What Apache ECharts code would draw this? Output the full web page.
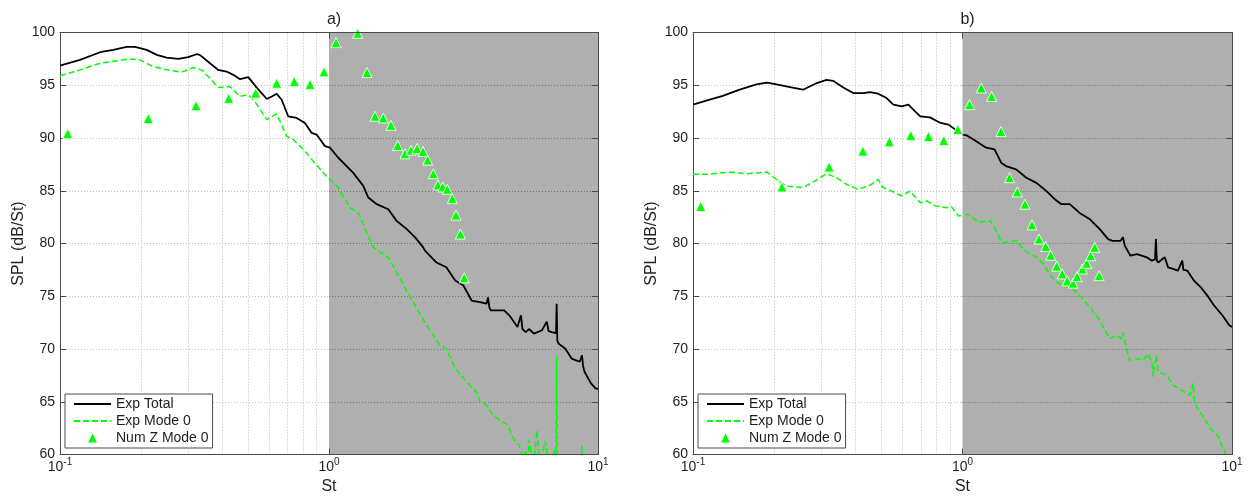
<!DOCTYPE html>
<html>
<head>
<meta charset="utf-8">
<script src="https://cdn.jsdelivr.net/npm/echarts@6/dist/echarts.min.js"></script>
<style>
  html, body { margin: 0; padding: 0; background: #fff; }
  #chart { width: 1256px; height: 500px; }
</style>
</head>
<body>
<div id="chart"></div>
<script>
// ---- Panel a) : [St, SPL dB/St] ----
const aExpTotal = [
  [0.1,96.87],[0.1187,97.4],[0.1409,98.13],[0.1578,98.35],[0.177,98.63],[0.19,98.63],[0.21,98.35],
  [0.229,97.88],[0.249,97.62],[0.276,97.5],[0.2996,97.66],[0.3215,97.94],[0.331,97.88],[0.361,97.09],
  [0.387,96.46],[0.416,96.3],[0.441,95.99],[0.467,95.58],[0.501,95.77],[0.537,94.83],[0.587,93.7],
  [0.613,93.94],[0.639,94.2],[0.667,93.63],[0.705,92.06],[0.758,91.9],[0.814,91.43],[0.861,90.49],
  [0.899,90.33],[0.966,89.23],[1.009,89.08],[1.083,88.13],[1.099,87.97],[1.231,86.7],[1.342,85.45],
  [1.4,84.36],[1.504,83.73],[1.662,83.25],[1.783,82.15],[1.946,81.37],[2.09,80.58],[2.24,79.64],
  [2.274,79.32],[2.51,78.2],[2.73,77.75],[2.945,76.49],[3.16,76.02],[3.39,74.6],[3.64,74.45],
  [3.85,74.3],[3.9,74.9],[3.95,73.9],[4.0,73.66],[4.48,73.66],[4.68,73.2],[5.02,72.1],[5.1,72.2],
  [5.17,73.2],[5.24,71.9],[5.39,71.6],[5.54,71.9],[5.78,71.46],[6.19,71.78],[6.45,72.6],[6.55,71.7],
  [6.73,71.6],[6.98,71.5],[7.02,74.3],[7.06,70.8],[7.14,70.5],[7.55,70.05],[7.98,69.1],[8.55,68.8],
  [8.72,69.4],[8.8,68.4],[8.91,67.85],[9.42,66.75],[9.77,66.3],[10,66.2]
];
const aExpMode0 = [
  [0.1,95.9],[0.1187,96.46],[0.1409,97.09],[0.162,97.31],[0.182,97.5],[0.198,97.4],[0.222,96.77],
  [0.249,96.46],[0.283,96.24],[0.313,96.68],[0.336,96.46],[0.361,95.67],[0.387,94.79],[0.428,94.89],
  [0.467,93.94],[0.501,94.1],[0.53,93.47],[0.587,91.75],[0.639,92.28],[0.696,90.17],[0.736,89.86],
  [0.814,88.76],[0.873,87.81],[0.977,86.4],[1.083,85.3],[1.099,84.98],[1.197,83.4],[1.285,82.94],
  [1.38,81.06],[1.46,79.64],[1.525,79.32],[1.662,78.7],[1.81,76.96],[1.993,75.07],[2.14,73.66],
  [2.33,72.1],[2.58,70.36],[2.73,70.05],[2.945,68.16],[3.25,66.9],[3.34,66.58],[3.53,65.96],
  [3.64,65.0],[3.85,64.7],[4.07,63.75],[4.31,63.28],[4.62,62.8],[4.88,61.4],[5.09,60.9],[5.25,59.8],
  [5.39,60.3],[5.5,59.6],[5.54,61.4],[5.65,60.0],[5.78,59.5],[5.93,62.3],[6.02,60.2],[6.15,59.6],
  [6.37,61.3],[6.5,59.8],[6.7,59.4],[6.9,60.5],[6.98,59.5],[7.02,69.3],[7.06,58.5],[7.5,57.8],
  [8.0,57.2],[8.6,56.6],[8.72,60.9],[8.8,56.4],[9.4,55.8],[10,55.2]
];
const aNumZMode0 = [
  [0.1068,90.42],[0.2129,91.84],[0.3203,93.07],[0.4237,93.76],[0.534,94.26],[0.639,95.2],[0.743,95.36],
  [0.85,95.08],[0.958,96.27],[1.062,99.04],[1.278,99.92],[1.384,96.2],[1.483,92.06],[1.592,91.9],
  [1.7,91.2],[1.8,89.29],[1.916,88.51],[2.018,88.85],[2.124,89.0],[2.236,88.73],[2.327,87.91],
  [2.442,86.62],[2.542,85.55],[2.647,85.36],[2.753,85.14],[2.873,84.26],[2.966,82.69],[3.077,80.9],
  [3.184,76.75]
];

// ---- Panel b) ----
const bExpTotal = [
  [0.1,93.16],[0.112,93.54],[0.129,94.0],[0.149,94.58],[0.172,95.08],[0.188,95.26],[0.204,95.08],
  [0.229,94.83],[0.256,94.58],[0.288,95.21],[0.313,95.52],[0.331,95.42],[0.361,94.79],[0.393,94.26],
  [0.429,94.26],[0.454,94.36],[0.486,94.2],[0.523,93.79],[0.554,93.16],[0.595,93.0],[0.63,93.16],
  [0.667,92.53],[0.697,92.06],[0.757,91.96],[0.829,91.43],[0.887,91.27],[0.953,90.7],[1.003,90.33],
  [1.038,90.24],[1.124,89.7],[1.225,89.08],[1.315,88.92],[1.392,87.66],[1.45,87.34],[1.581,87.03],
  [1.725,86.24],[1.88,85.75],[2.05,84.97],[2.2,84.2],[2.33,83.73],[2.5,83.73],[2.72,82.9],[2.97,82.3],
  [3.23,81.37],[3.47,80.42],[3.6,80.26],[3.86,80.26],[3.94,80.6],[4.0,79.8],[4.2,78.85],[4.44,79.0],
  [4.83,78.7],[5.04,78.38],[5.18,78.5],[5.22,80.42],[5.26,78.4],[5.32,78.2],[5.63,78.7],[5.79,77.75],
  [6.04,77.6],[6.3,77.44],[6.54,78.38],[6.6,77.5],[6.82,77.44],[7.22,76.49],[7.65,75.87],[8.1,75.07],
  [8.58,74.13],[9.22,73.18],[9.77,72.25],[10,72.09]
];
const bExpMode0 = [
  [0.1,86.56],[0.112,86.56],[0.137,86.77],[0.158,86.62],[0.188,86.77],[0.204,86.08],[0.222,85.45],
  [0.256,85.3],[0.283,85.92],[0.313,86.62],[0.341,86.24],[0.371,85.61],[0.41,85.14],[0.454,85.52],
  [0.486,86.08],[0.508,85.3],[0.554,84.89],[0.595,84.51],[0.639,84.98],[0.697,83.87],[0.737,84.04],
  [0.793,83.57],[0.872,83.4],[0.91,83.5],[0.966,82.62],[1.05,82.78],[1.147,82.0],[1.268,82.15],
  [1.322,81.37],[1.4,80.1],[1.59,80.26],[1.66,79.64],[1.734,79.17],[1.89,78.7],[2.02,77.9],[2.1,77.12],
  [2.24,76.34],[2.37,76.02],[2.57,75.7],[2.72,75.07],[2.97,73.97],[3.23,72.72],[3.51,71.0],[3.72,71.3],
  [3.88,71.0],[3.94,71.6],[4.06,70.05],[4.17,68.94],[4.42,69.1],[4.68,68.94],[4.89,69.58],[5.05,68.6],
  [5.1,67.38],[5.16,68.5],[5.25,69.4],[5.32,67.85],[5.72,67.53],[6.06,66.58],[6.64,65.96],[7.0,65.65],
  [7.17,66.75],[7.25,65.2],[7.31,64.76],[7.84,63.5],[8.53,62.09],[8.88,61.77],[9.0,61.3],[9.5,60.0],
  [10,59.3]
];
const bNumZMode0 = [
  [0.1068,83.51],[0.2137,85.36],[0.32,87.25],[0.427,88.76],[0.535,89.64],[0.643,90.24],[0.748,90.14],
  [0.852,89.76],[0.961,90.8],[1.062,93.16],[1.174,94.74],[1.282,93.94],[1.389,90.61],[1.495,86.24],
  [1.597,84.89],[1.706,83.73],[1.811,81.77],[1.923,80.42],[2.035,79.73],[2.124,78.89],[2.236,77.85],
  [2.343,77.12],[2.445,76.46],[2.572,76.25],[2.662,76.87],[2.786,77.59],[2.891,78.13],[2.988,78.85],
  [3.093,79.64],[3.214,76.96]
];

// ---- Axes, grid lines and shaded band ----
const stRange = [0.1, 10];
const splRange = [60, 100];
const splStep = 5;
const splGrid = [65, 70, 75, 80, 85, 90, 95];
const stMinorGrid = [0.2, 0.3, 0.4, 0.5, 0.6, 0.7, 0.8, 0.9];
const shadedSt = [1, 10];
const seriesNames = ['Exp Total', 'Exp Mode 0', 'Num Z Mode 0'];
const panelTitles = ['a)', 'b)'];

const panels = [
  { title: panelTitles[0], total: aExpTotal, mode: aExpMode0, num: aNumZMode0 },
  { title: panelTitles[1], total: bExpTotal, mode: bExpMode0, num: bNumZMode0 }
];

const FONT = '"Liberation Sans", Arial, Helvetica, sans-serif';
const TEXT = '#1e1e1e';
const AXIS = '#4a4a4a';

const boxes = [
  { left: 60, width: 538 },
  { left: 693, width: 539 }
];
const gridTop = 32.5, gridBottom = 43.5;

const grid = [], xAxis = [], yAxis = [], series = [], legend = [], title = [];

panels.forEach((p, i) => {
  const b = boxes[i];
  grid.push({ left: b.left, width: b.width, top: gridTop, bottom: gridBottom, containLabel: false });

  title.push({
    text: p.title, left: b.left + b.width / 2, top: 7, textAlign: 'center',
    textStyle: { fontFamily: FONT, fontSize: 16, fontWeight: 'normal', color: TEXT }
  });

  // bottom log axis with labels
  xAxis.push({
    type: 'log', logBase: 10, gridIndex: i, position: 'bottom', min: stRange[0], max: stRange[1],
    z: 4,
    name: 'St', nameLocation: 'middle', nameGap: 24,
    nameTextStyle: { fontFamily: FONT, fontSize: 16, color: TEXT },
    axisLine: { show: true, lineStyle: { color: AXIS, width: 1 } },
    axisTick: { show: true, inside: true, length: 6, lineStyle: { color: AXIS } },
    minorTick: { show: false },
    splitLine: { show: false },
    axisLabel: {
      margin: 3, color: TEXT, fontFamily: FONT,
      formatter: v => '{b|10}{s|' + Math.round(Math.log10(v)) + '}',
      rich: {
        b: { fontSize: 14, fontFamily: FONT, color: TEXT },
        s: { fontSize: 10, fontFamily: FONT, color: TEXT, padding: [0, 0, 9, 0] }
      }
    }
  });
  // top frame edge
  xAxis.push({
    type: 'log', logBase: 10, gridIndex: i, position: 'top', min: stRange[0], max: stRange[1], z: 4,
    axisLine: { show: true, lineStyle: { color: AXIS, width: 1 } },
    axisTick: { show: true, inside: true, length: 6, lineStyle: { color: AXIS } },
    axisLabel: { show: false }, splitLine: { show: false }
  });

  // left value axis with dotted grid
  yAxis.push({
    type: 'value', gridIndex: i, position: 'left', min: splRange[0], max: splRange[1], interval: splStep,
    name: 'SPL (dB/St)', nameLocation: 'middle', nameGap: 33, nameRotate: 90,
    nameTextStyle: { fontFamily: FONT, fontSize: 16, color: TEXT },
    axisLine: { show: true, lineStyle: { color: AXIS, width: 1 } },
    axisTick: { show: true, inside: true, length: 6, lineStyle: { color: AXIS } },
    axisLabel: { margin: 5, fontFamily: FONT, fontSize: 14, color: TEXT },
    splitLine: { show: true, lineStyle: { color: '#bcbcbc', type: [1, 2], width: 1 } }
  });
  // right frame edge
  yAxis.push({
    type: 'value', gridIndex: i, position: 'right', min: splRange[0], max: splRange[1], interval: splStep, z: 4,
    axisLine: { show: true, lineStyle: { color: AXIS, width: 1 } },
    axisTick: { show: true, inside: true, length: 6, lineStyle: { color: AXIS } },
    axisLabel: { show: false }, splitLine: { show: false }
  });

  const xi = i * 2, yi = i * 2;

  const guideLines = stMinorGrid.map(st => ({
    xAxis: st, lineStyle: { color: '#bcbcbc', type: [1, 2], width: 1 }
  })).concat(splGrid.map(v => [
    { coord: [shadedSt[0], v], lineStyle: { color: '#6c6c6c', type: [1, 2], width: 1 } },
    { coord: [shadedSt[1], v] }
  ]));

  series.push({
    name: seriesNames[0], type: 'line', xAxisIndex: xi, yAxisIndex: yi,
    data: p.total, symbol: 'none', showSymbol: false, z: 2,
    lineStyle: { color: '#000', width: 1.8 }, itemStyle: { color: '#000' },
    markArea: {
      silent: true, z: 1,
      itemStyle: { color: '#afafaf' },
      data: [[{ xAxis: shadedSt[0], yAxis: splRange[0] }, { xAxis: shadedSt[1], yAxis: splRange[1] }]]
    },
    markLine: {
      silent: true, z: 1.5, symbol: ['none', 'none'], label: { show: false },
      animation: false, data: guideLines
    }
  });
  series.push({
    name: seriesNames[1], type: 'line', xAxisIndex: xi, yAxisIndex: yi,
    data: p.mode, symbol: 'none', showSymbol: false, z: 2,
    lineStyle: { color: '#00ff00', width: 1.5, type: [6, 3] }, itemStyle: { color: '#00ff00' }
  });
  series.push({
    name: seriesNames[2], type: 'line', xAxisIndex: xi, yAxisIndex: yi,
    data: p.num, symbol: 'triangle', symbolSize: 10, showSymbol: true, showAllSymbol: true, z: 3,
    lineStyle: { width: 0, opacity: 0 },
    itemStyle: { color: '#00ff00', borderColor: 'rgba(235,255,235,0.9)', borderWidth: 1 }
  });

  legend.push({
    left: b.left + 5, top: 394, orient: 'vertical', selectedMode: false,
    backgroundColor: '#fff', borderColor: AXIS, borderWidth: 1, borderRadius: 0,
    padding: [3, 4, 3, 8], itemGap: 3, itemWidth: 37, itemHeight: 11,
    textStyle: { fontFamily: FONT, fontSize: 14, color: TEXT },
    data: [
      { name: seriesNames[0], itemStyle: { opacity: 0 } },
      { name: seriesNames[1], itemStyle: { opacity: 0 } },
      { name: seriesNames[2], itemStyle: { borderWidth: 0 } }
    ]
  });
});

const chart = echarts.init(document.getElementById('chart'), null, { renderer: 'canvas' });
chart.setOption({
  animation: false,
  backgroundColor: '#fff',
  title, grid, xAxis, yAxis, legend, series
});
</script>
</body>
</html>
